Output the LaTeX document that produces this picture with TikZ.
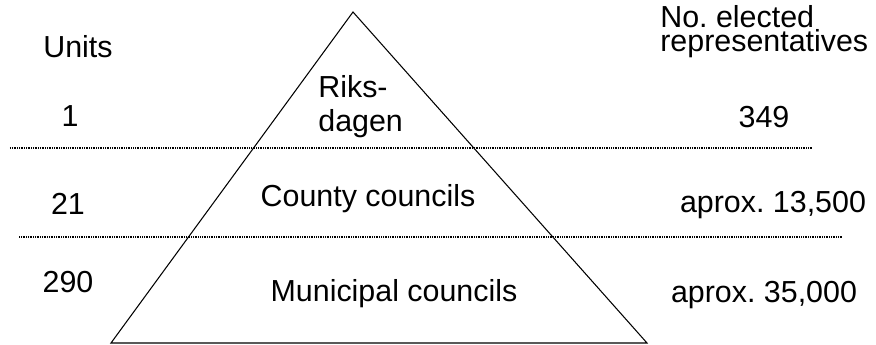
\documentclass[tikz,border=0pt]{standalone}
\usepackage{fontspec}
\setmainfont{Liberation Sans}
\frenchspacing
\newcommand{\sepline}[3]{\draw[sepdots] (#1,#3) -- (#2,#3);}

\begin{document}
\begin{tikzpicture}[
    lbl/.style={font=\fontsize{17.3}{14}\selectfont, inner sep=0pt, anchor=base},
    sepdots/.style={line width=0.9pt, dash pattern=on 0.5pt off 0.5pt},
    edge/.style={line width=0.6pt}]
    \useasboundingbox (0,0) rectangle (17.52,6.9);
    % pyramid
    \coordinate (top) at (7.06,6.66);
    \coordinate (bl) at (2.22,0.04);
    \coordinate (br) at (12.94,0.04);
    \draw[edge] (top) -- (br) -- (bl) -- cycle;
    \sepline{0.2}{16.26}{3.94}
    \sepline{0.38}{16.86}{2.16}

    % column heads
    \node[lbl] (units) at (1.56,5.74) {Units};
    \node[lbl, align=left, anchor=base west] (reps) at (13.2,5.86) {No. elected\\representatives};

    % levels
    \node[lbl, align=left, anchor=base west, font=\fontsize{17.3}{19.8}\selectfont] (riksdag) at (6.36,4.26) {Riks-\\dagen};
    \node[lbl] (county) at (7.36,2.76) {County councils};
    \node[lbl] (munic) at (7.88,0.86) {Municipal councils};

    \foreach \n/\x/\y/\val in {1/1.40/4.36/1, 2/1.36/2.60/21, 3/1.36/1.04/290} {
      \node[lbl] (unit\n) at (\x,\y) {\val};
    }
    \foreach \n/\x/\y/\val in {1/15.28/4.34/349, 2/15.46/2.64/{aprox. 13,500}, 3/15.28/0.84/{aprox. 35,000}} {
      \node[lbl] (rep\n) at (\x,\y) {\val};
    }
\end{tikzpicture}
\end{document}
